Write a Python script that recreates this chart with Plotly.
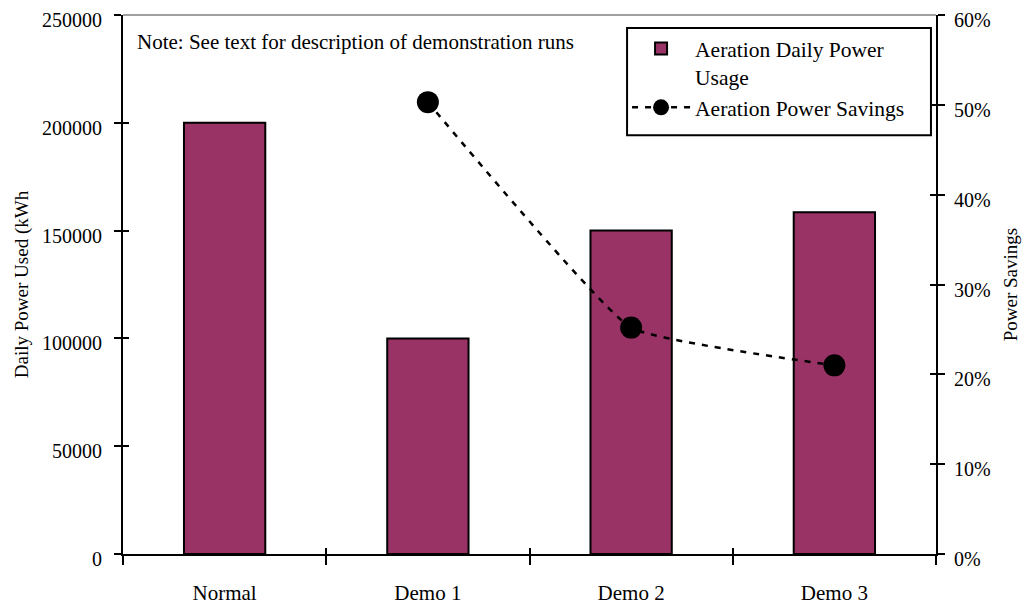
import plotly.graph_objects as go

categories = ["Normal", "Demo 1", "Demo 2", "Demo 3"]
daily_power = [200000, 100000, 150000, 158500]
savings_cats = ["Demo 1", "Demo 2", "Demo 3"]
savings = [0.503, 0.252, 0.210]
left_ticks = [0, 50000, 100000, 150000, 200000, 250000]
right_ticks = [0, 0.1, 0.2, 0.3, 0.4, 0.5, 0.6]

FONT = "Liberation Serif, Times New Roman, serif"
BAR_COLOR = "#993366"

fig = go.Figure()
fig.add_trace(go.Bar(
    x=categories, y=daily_power, name="Aeration Daily Power<br>Usage",
    marker=dict(color=BAR_COLOR, line=dict(color="black", width=2)),
    width=0.4, xaxis="x", yaxis="y",
))
fig.add_trace(go.Scatter(
    x=savings_cats, y=savings, name="Aeration Power Savings",
    mode="lines+markers",
    line=dict(color="black", width=2.5, dash="6px,7px", shape="spline", smoothing=0.35),
    marker=dict(color="black", size=22), xaxis="x", yaxis="y2",
))
# hidden copies so the overlay axes (inward tick halves) are drawn
fig.add_trace(go.Scatter(x=categories, y=daily_power, xaxis="x3", yaxis="y3",
                         mode="markers", marker=dict(opacity=0), showlegend=False,
                         hoverinfo="skip"))
fig.add_trace(go.Scatter(x=savings_cats, y=savings, xaxis="x3", yaxis="y4",
                         mode="markers", marker=dict(opacity=0), showlegend=False,
                         hoverinfo="skip"))

common = dict(showgrid=False, zeroline=False, color="black", automargin=False)
fig.update_layout(
    width=1024, height=605,
    margin=dict(l=123, r=88, t=15, b=51, autoexpand=False),
    paper_bgcolor="white", plot_bgcolor="white",
    font=dict(family=FONT, size=20, color="black"),
    showlegend=True,
    legend=dict(x=0.620, xanchor="left", y=0.976, yanchor="top",
                borderwidth=0, bgcolor="rgba(0,0,0,0)", valign="top",
                font=dict(size=21.5), itemwidth=58, tracegroupgap=0),
    xaxis=dict(type="category", categoryarray=categories, range=[-0.5, 3.5],
               tickson="boundaries", ticks="outside", ticklen=9, tickwidth=2,
               showline=True, linewidth=2, linecolor="black",
               tickfont=dict(size=21), ticklabelstandoff=19, **common),
    xaxis3=dict(type="category", categoryarray=categories, overlaying="x", anchor="y3",
                range=[-0.5, 3.5], tickson="boundaries", ticks="inside", ticklen=6,
                tickwidth=2, showticklabels=False, showline=False, **common),
    yaxis=dict(range=[0, 250000], tickvals=left_ticks, ticks="outside", ticklen=7, tickwidth=2,
               showline=True, linewidth=2, linecolor="black", tickformat="d",
               ticklabelstandoff=8, ticklabelshift=5,
               title=dict(text="Daily Power Used (kWh", standoff=8, font=dict(size=19)),
               **common),
    yaxis3=dict(overlaying="y", anchor="x3", range=[0, 250000], tickvals=left_ticks,
                ticks="inside", ticklen=6, tickwidth=2, showticklabels=False,
                showline=False, **common),
    yaxis2=dict(overlaying="y", side="right", anchor="x", range=[0, 0.6], tickvals=right_ticks,
                tickformat=".0%", ticks="outside", ticklen=7, tickwidth=2,
                showline=True, linewidth=2, linecolor="black", ticklabelstandoff=5,
                ticklabelshift=5,
                title=dict(text="Power Savings", standoff=14, font=dict(size=19)),
                **common),
    yaxis4=dict(overlaying="y", side="right", anchor="x3", range=[0, 0.6], tickvals=right_ticks,
                ticks="inside", ticklen=6, tickwidth=2, showticklabels=False,
                showline=False, **common),
)

# grey top frame line
fig.add_shape(type="line", xref="paper", yref="paper", x0=0, x1=1, y0=1, y1=1,
              line=dict(color="#808080", width=1.5))
# legend frame
fig.add_shape(type="rect", xref="paper", yref="paper", x0=0.620, x1=0.9938,
              y0=0.777, y1=0.976, line=dict(color="black", width=2))

fig.add_annotation(text="Note: See text for description of demonstration runs",
                   xref="paper", yref="paper", x=0.0148, y=0.95, xanchor="left", yanchor="middle",
                   showarrow=False, font=dict(size=21, family=FONT))

fig.write_html("out.html")
